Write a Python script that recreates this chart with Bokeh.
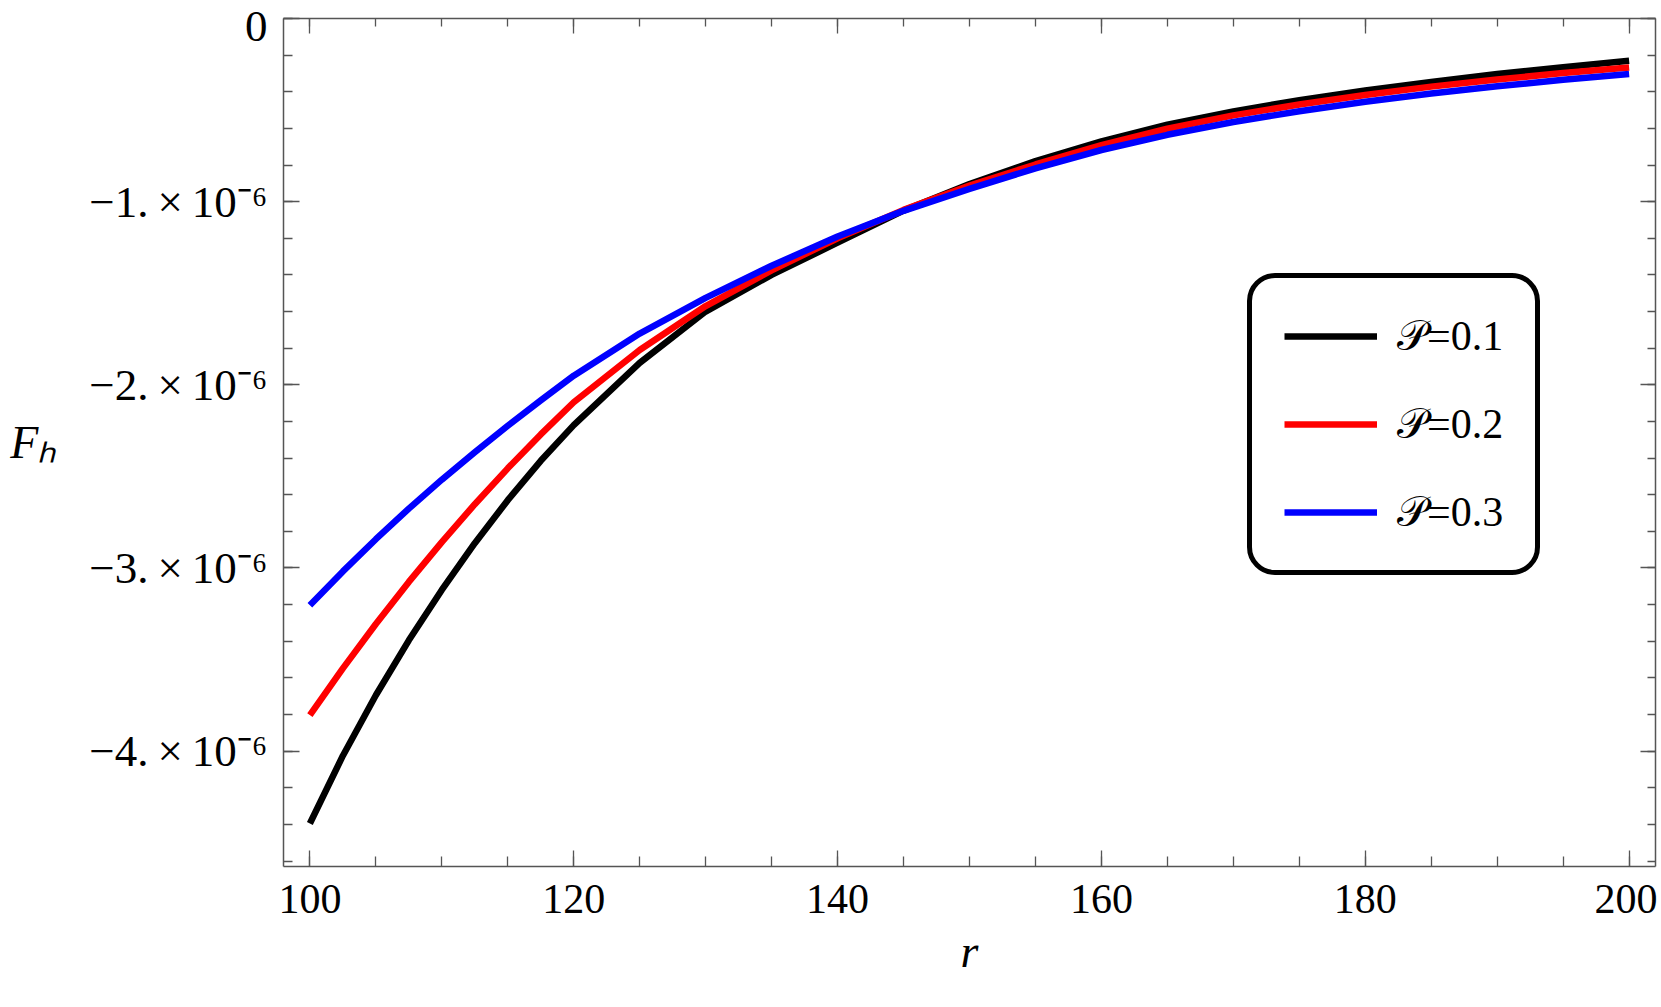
from bokeh.plotting import figure
from bokeh.models import (Range1d, LinearAxis, FixedTicker, Legend, LegendItem,
                          CustomJSTickFormatter)
from bokeh.embed import file_html
from bokeh.resources import INLINE

# ---------------- data (F_h in units of 1e-6) ----------------
r_vals = [100, 102.5, 105, 107.5, 110, 112.5, 115, 117.5, 120, 125, 130, 135, 140, 145,
          150, 155, 160, 165, 170, 175, 180, 185, 190, 195, 200]
f_p01 = [-4.395, -4.025, -3.695, -3.395, -3.120, -2.865, -2.630, -2.415, -2.220, -1.880,
         -1.600, -1.400, -1.224, -1.049, -0.904, -0.779, -0.671, -0.580, -0.507, -0.446,
         -0.393, -0.346, -0.303, -0.266, -0.231]
f_p02 = [-3.804, -3.548, -3.306, -3.076, -2.859, -2.652, -2.456, -2.271, -2.095, -1.810,
         -1.570, -1.375, -1.200, -1.045, -0.912, -0.797, -0.692, -0.602, -0.529, -0.470,
         -0.418, -0.372, -0.333, -0.298, -0.268]
f_p03 = [-3.204, -3.019, -2.843, -2.676, -2.518, -2.368, -2.224, -2.085, -1.950, -1.720,
         -1.525, -1.350, -1.190, -1.050, -0.930, -0.818, -0.718, -0.635, -0.565, -0.506,
         -0.455, -0.410, -0.370, -0.335, -0.303]
series_labels = ["\U0001D4AB=0.1", "\U0001D4AB=0.2", "\U0001D4AB=0.3"]
series_colors = ["#000000", "#FF0000", "#0000FF"]

x_major = [100, 120, 140, 160, 180, 200]
x_minor = [100 + 5 * k for k in range(21)]
y_ticks = [0, -1, -2, -3, -4]
y_tick_labels = ["0",
                 "\u22121.\u2009\u00d7\u200910\u207b\u2076",
                 "\u22122.\u2009\u00d7\u200910\u207b\u2076",
                 "\u22123.\u2009\u00d7\u200910\u207b\u2076",
                 "\u22124.\u2009\u00d7\u200910\u207b\u2076"]
y_minor = [-0.2 * k for k in range(24)]
x_title = "r"
y_title = "F\u2095"

FONT = "Liberation Serif"
AX = "#555555"

p = figure(width=1657, height=999, x_range=Range1d(98, 202), y_range=Range1d(-4.63, 0.0),
           output_backend="svg", toolbar_location=None,
           x_axis_type=None, y_axis_type=None,
           min_border_left=283, min_border_right=2, min_border_top=18, min_border_bottom=133)
p.outline_line_color = None
p.background_fill_color = "white"
p.border_fill_color = "white"


def style(ax, tin, tmin):
    ax.axis_line_color = AX
    ax.axis_line_width = 1.5
    ax.major_tick_line_color = AX
    ax.minor_tick_line_color = AX
    ax.major_tick_line_width = 1.3
    ax.minor_tick_line_width = 1.3
    ax.major_tick_in = tin
    ax.major_tick_out = 0
    ax.minor_tick_in = tmin
    ax.minor_tick_out = 0
    ax.major_label_text_font = FONT
    ax.major_label_text_color = "black"
    ax.axis_label_text_font = FONT
    ax.axis_label_text_font_style = "italic"
    ax.axis_label_text_color = "black"


empty = CustomJSTickFormatter(code="return ''")

xb = LinearAxis(ticker=FixedTicker(ticks=x_major, minor_ticks=x_minor), axis_label=x_title)
style(xb, 16, 10)
xb.major_label_text_font_size = "42px"
xb.major_label_standoff = 18
xb.axis_label_text_font_size = "46px"
xb.axis_label_standoff = 10
p.add_layout(xb, "below")

xt = LinearAxis(ticker=FixedTicker(ticks=x_major, minor_ticks=x_minor), formatter=empty)
style(xt, 15, 8)
xt.major_label_text_font_size = "0px"
xt.major_label_standoff = 0
p.add_layout(xt, "above")

yfmt = CustomJSTickFormatter(args=dict(t=y_ticks, l=y_tick_labels), code="""
let i = 0, b = 1e9;
for (let k = 0; k < t.length; k++) { const d = Math.abs(t[k] - tick); if (d < b) { b = d; i = k; } }
return l[i];
""")
yl = LinearAxis(ticker=FixedTicker(ticks=y_ticks, minor_ticks=y_minor), formatter=yfmt,
                axis_label=y_title)
style(yl, 16, 9)
yl.major_label_text_font_size = "45px"
yl.major_label_standoff = 16
yl.axis_label_text_font_size = "46px"
yl.axis_label_orientation = "horizontal"
yl.axis_label_standoff = 30
p.add_layout(yl, "left")

yr = LinearAxis(ticker=FixedTicker(ticks=y_ticks, minor_ticks=y_minor), formatter=empty)
style(yr, 15, 8)
yr.major_label_text_font_size = "0px"
yr.major_label_standoff = 0
p.add_layout(yr, "right")

renderers = []
for ys, c in zip([f_p01, f_p02, f_p03], series_colors):
    renderers.append(p.line(r_vals, ys, line_color=c, line_width=6.5, line_join="round"))

legend = Legend(items=[LegendItem(label=lab, renderers=[rr]) for lab, rr in zip(series_labels, renderers)],
                location=(964, 291))
legend.border_line_color = "black"
legend.border_line_alpha = 1.0
legend.border_line_width = 5
legend.background_fill_color = "white"
legend.background_fill_alpha = 1.0
legend.glyph_width = 93
legend.glyph_height = 52
legend.label_height = 52
legend.spacing = 36
legend.padding = 32
legend.margin = 0
legend.label_standoff = 20
legend.label_text_font = FONT
legend.label_text_font_size = "42px"
legend.label_text_color = "black"
if "border_radius" in Legend.properties():
    legend.border_radius = 28
p.add_layout(legend)

open("out.html", "w").write(file_html(p, INLINE))
